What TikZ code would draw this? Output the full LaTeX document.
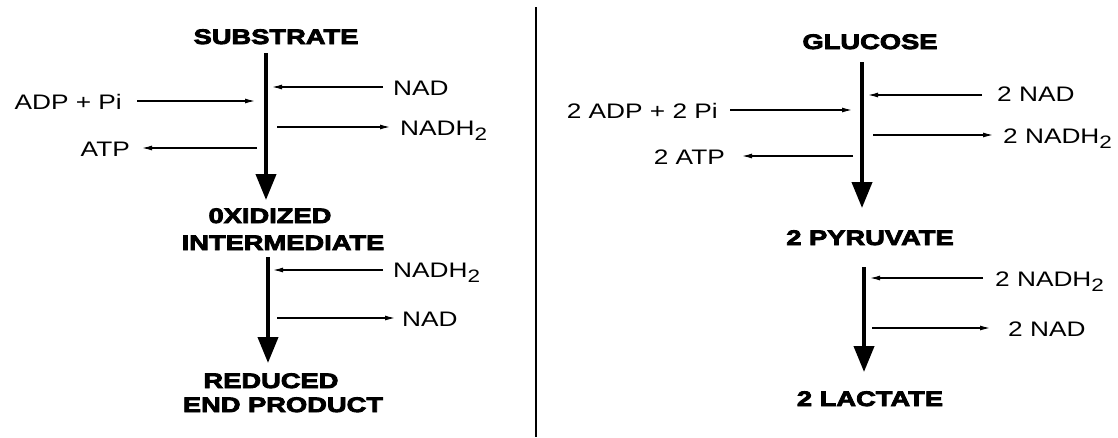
\documentclass[tikz,border=0pt]{standalone}
\usepackage{fontspec}
\setmainfont{Liberation Sans}
\newfontfamily\labfont{Liberation Sans}[FakeStretch=1.25]
\newfontfamily\ttlfont{Liberation Sans Bold}[FakeStretch=1.3,FakeBold=4]
\usetikzlibrary{arrows.meta}
\newcommand\subtwo{\raisebox{-5pt}{\fontsize{18}{18}\selectfont 2}}
\tikzset{
  lab/.style={font=\labfont\fontsize{21}{23}\selectfont, inner sep=0pt},
  ttl/.style={font=\ttlfont\fontsize{21}{23}\selectfont, inner sep=0pt, anchor=base},
  mainarr/.style={line width=4pt, -{Triangle[width=20pt,length=26pt]}},
  sidearr/.style={line width=1.2pt, -{Latex[length=10pt,width=5pt]}},
}
\begin{document}
\begin{tikzpicture}[x=1pt,y=-1pt]
\useasboundingbox (0,0) rectangle (1118,437);
% ---------- left ----------
\node[ttl] (sub) at (276,44) {SUBSTRATE};
\node[ttl] (ox1) at (270,223) {0XIDIZED};
\node[ttl] (ox2) at (283,250) {INTERMEDIATE};
\node[ttl] (red1) at (271,388) {REDUCED};
\node[ttl] (red2) at (283,412) {END PRODUCT};
\coordinate (m1a) at (266,53);  \coordinate (m1b) at (266,200);
\coordinate (m2a) at (268,257); \coordinate (m2b) at (268,363);
\draw[mainarr] (m1a) -- (m1b);
\draw[mainarr] (m2a) -- (m2b);
\node[lab,anchor=base west] (nad1) at (393,95) {NAD};
\node[lab,anchor=base east] (adp1) at (122,109) {ADP + Pi};
\node[lab,anchor=base west] (nadh1) at (400,135) {NADH\subtwo};
\node[lab,anchor=base east] (atp1) at (130,156) {ATP};
\node[lab,anchor=base west] (nadh2) at (393,277) {NADH\subtwo};
\node[lab,anchor=base west] (nad2) at (402,326) {NAD};
\coordinate (a1s) at (383,87);  \coordinate (a1e) at (272,87);
\coordinate (a2s) at (137,101); \coordinate (a2e) at (255,101);
\coordinate (a3s) at (277,127); \coordinate (a3e) at (390,127);
\coordinate (a4s) at (257,148); \coordinate (a4e) at (142,148);
\coordinate (a5s) at (383,270); \coordinate (a5e) at (273,270);
\coordinate (a6s) at (277,318); \coordinate (a6e) at (395,318);
\draw[sidearr] (a1s) -- (a1e);
\draw[sidearr] (a2s) -- (a2e);
\draw[sidearr] (a3s) -- (a3e);
\draw[sidearr] (a4s) -- (a4e);
\draw[sidearr] (a5s) -- (a5e);
\draw[sidearr] (a6s) -- (a6e);
% ---------- divider ----------
\coordinate (d1) at (536,7); \coordinate (d2) at (536,437);
\draw[line width=1.8pt] (d1) -- (d2);
% ---------- right ----------
\node[ttl] (glu) at (870,49) {GLUCOSE};
\node[ttl] (pyr) at (870,245) {2 PYRUVATE};
\node[ttl] (lac) at (870,406) {2 LACTATE};
\coordinate (m3a) at (862,62);  \coordinate (m3b) at (862,208);
\coordinate (m4a) at (864,267); \coordinate (m4b) at (864,372);
\draw[mainarr] (m3a) -- (m3b);
\draw[mainarr] (m4a) -- (m4b);
\node[lab,anchor=base west] (rnad1) at (997,101) {2 NAD};
\node[lab,anchor=base east] (radp) at (718,118) {2 ADP + 2 Pi};
\node[lab,anchor=base west] (rnadh1) at (1003,143) {2 NADH\subtwo};
\node[lab,anchor=base east] (ratp) at (725,164) {2 ATP};
\node[lab,anchor=base west] (rnadh2) at (995,286) {2 NADH\subtwo};
\node[lab,anchor=base west] (rnad2) at (1008,336) {2 NAD};
\coordinate (b1s) at (982,95);  \coordinate (b1e) at (868,95);
\coordinate (b2s) at (730,110); \coordinate (b2e) at (852,110);
\coordinate (b3s) at (873,135); \coordinate (b3e) at (993,135);
\coordinate (b4s) at (853,156); \coordinate (b4e) at (742,156);
\coordinate (b5s) at (983,278); \coordinate (b5e) at (870,278);
\coordinate (b6s) at (872,328); \coordinate (b6e) at (990,328);
\draw[sidearr] (b1s) -- (b1e);
\draw[sidearr] (b2s) -- (b2e);
\draw[sidearr] (b3s) -- (b3e);
\draw[sidearr] (b4s) -- (b4e);
\draw[sidearr] (b5s) -- (b5e);
\draw[sidearr] (b6s) -- (b6e);
\end{tikzpicture}
\end{document}
